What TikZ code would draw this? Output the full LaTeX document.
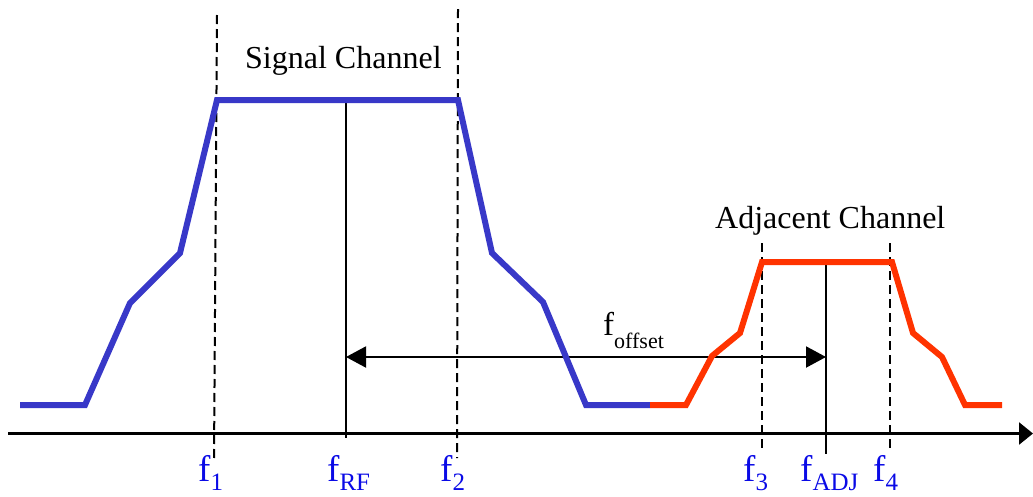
\documentclass[tikz,border=0pt]{standalone}
\usepackage{fontspec}
\setmainfont{Liberation Serif}
\usetikzlibrary{arrows.meta}
\definecolor{sigblue}{RGB}{56,56,200}
\definecolor{adjred}{RGB}{255,51,0}
\definecolor{lblblue}{RGB}{10,10,230}
\newcommand{\botlbl}[1]{\fontsize{37}{37}\selectfont f\raisebox{-9.5pt}{\fontsize{25}{25}\selectfont #1}}
\tikzset{
  sigline/.style={sigblue, line width=6pt, line join=miter},
  adjline/.style={adjred, line width=6pt, line join=miter},
  guide/.style={black, line width=2pt, dash pattern=on 9pt off 5pt},
  marker/.style={black, line width=2pt},
  axisline/.style={black, line width=2.5pt, -{Triangle[length=14pt,width=22pt]}},
  offarrow/.style={black, line width=2pt, {Triangle[length=20pt,width=21pt]}-{Triangle[length=20pt,width=21pt]}},
  title/.style={font=\fontsize{32}{32}\selectfont, anchor=base west, inner sep=0pt},
  flbl/.style={text=lblblue, anchor=base west, inner sep=0pt}
}
\begin{document}
\begin{tikzpicture}[x=1pt,y=-1pt]
\useasboundingbox (0,0) rectangle (1033,496);
% key coordinates
\coordinate (axL) at (8,433.5);
\coordinate (axR) at (1033,433.5);
\coordinate (rfTop) at (346,100);
\coordinate (rfBot) at (346,438);
\coordinate (adjTop) at (826,262);
\coordinate (adjBot) at (826,454);
\coordinate (offL) at (346,357);
\coordinate (offR) at (826,357);
% dashed guides
\draw[guide] (217,15) -- (214,460);
\draw[guide] (458,9) -- (457,458);
\draw[guide] (762,243) -- (762,450);
\draw[guide] (890,243) -- (890,450);
% axis
\draw[axisline] (axL) -- (axR);
% centre markers
\draw[marker] (rfTop) -- (rfBot);
\draw[marker] (adjTop) -- (adjBot);
% offset arrow
\draw[offarrow] (offL) -- (offR);
% signal channel
\draw[sigline] (20,405) -- (85,405) -- (130,303) -- (180,253) -- (217,100) -- (458,100)
  -- (492,253) -- (543,302) -- (586,405) -- (650,405);
% adjacent channel
\draw[adjline] (650,405) -- (686,405) -- (712,356) -- (740,333) -- (762,262) -- (892,262)
  -- (913,333) -- (942,357) -- (965,405) -- (1002,405);
% titles
\node[title] (sigtitle) at (245,68) {Signal Channel};
\node[title] (adjtitle) at (715,228) {Adjacent Channel};
\node[anchor=base west, inner sep=0pt] (foff) at (603,335)
  {\fontsize{33}{33}\selectfont f\raisebox{-13pt}{\fontsize{22}{22}\selectfont offset}};
% frequency labels
\node[flbl] (f1) at (198,481) {\botlbl{1}};
\node[flbl] (frf) at (327,481) {\botlbl{RF}};
\node[flbl] (f2) at (440,481) {\botlbl{2}};
\node[flbl] (f3) at (743,481) {\botlbl{3}};
\node[flbl] (fadj) at (800,481) {\botlbl{ADJ}};
\node[flbl] (f4) at (873,481) {\botlbl{4}};
\end{tikzpicture}
\end{document}
